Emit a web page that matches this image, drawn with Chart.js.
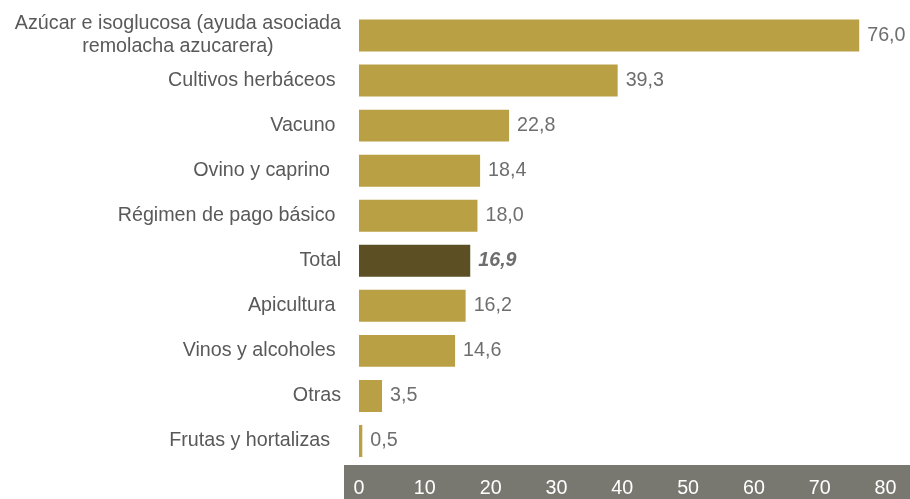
<!DOCTYPE html>
<html>
<head>
<meta charset="utf-8">
<script src="https://cdn.jsdelivr.net/npm/chart.js@4/dist/chart.umd.min.js"></script>
<style>
  html, body { margin: 0; padding: 0; background: #ffffff; }
  #wrap { width: 910px; height: 499px; position: relative; }
</style>
</head>
<body>
<div id="wrap"><canvas id="c" width="910" height="499"></canvas></div>
<script>
// ---- data ----
const categories = [
  ["Azúcar e isoglucosa (ayuda asociada", "remolacha azucarera)"],
  "Cultivos herbáceos ",
  "Vacuno ",
  "Ovino y caprino  ",
  "Régimen de pago básico ",
  "Total",
  "Apicultura ",
  "Vinos y alcoholes ",
  "Otras",
  "Frutas y hortalizas  "
];
const values = [76.0, 39.3, 22.8, 18.4, 18.0, 16.9, 16.2, 14.6, 3.5, 0.5];
const highlightIndex = 5; // "Total"
const xTicks = [0, 10, 20, 30, 40, 50, 60, 70, 80];

const FONT = '"Liberation Sans", Arial, sans-serif';
const FS = 19.7;
const GOLD = '#b9a044';
const DARK = '#5b4f23';
const BAND = '#787871';

const barColors = values.map((v, i) => i === highlightIndex ? DARK : GOLD);

const bandPlugin = {
  id: 'band',
  beforeDraw(chart) {
    const { ctx, chartArea, width, height } = chart;
    const xs = chart.scales.x;
    ctx.save();
    ctx.fillStyle = BAND;
    ctx.fillRect(chartArea.left - 15, xs.top + 1.5, width - (chartArea.left - 15), height - xs.top - 1.5);
    ctx.restore();
  }
};

const labelsPlugin = {
  id: 'labelsPlugin',
  afterDraw(chart) {
    const { ctx, chartArea } = chart;
    const ys = chart.scales.y;
    const meta = chart.getDatasetMeta(0);
    ctx.save();
    ctx.textBaseline = 'middle';
    const right = chartArea.left - 18;
    ctx.font = FS + 'px ' + FONT;
    ctx.fillStyle = '#595959';
    categories.forEach((lab, i) => {
      const y = ys.getPixelForValue(i);
      if (Array.isArray(lab)) {
        const w = Math.max(...lab.map(l => ctx.measureText(l).width));
        const cx = right - w / 2;
        const lh = 23;
        const y0 = y - (lab.length - 1) * lh / 2;
        ctx.textAlign = 'center';
        lab.forEach((l, k) => ctx.fillText(l, cx, y0 + k * lh));
      } else {
        ctx.textAlign = 'right';
        ctx.fillText(lab, right, y);
      }
    });
    ctx.textAlign = 'left';
    ctx.fillStyle = '#6e6e6e';
    meta.data.forEach((bar, i) => {
      const txt = values[i].toFixed(1).replace('.', ',');
      ctx.font = (i === highlightIndex ? 'italic bold ' : '') + FS + 'px ' + FONT;
      ctx.fillText(txt, bar.x + 8, bar.y);
    });
    ctx.restore();
  }
};

new Chart(document.getElementById('c'), {
  type: 'bar',
  data: {
    labels: categories,
    datasets: [{
      data: values,
      backgroundColor: barColors,
      borderWidth: 0,
      categoryPercentage: 1.0,
      barPercentage: 0.71
    }]
  },
  options: {
    indexAxis: 'y',
    responsive: false,
    animation: false,
    devicePixelRatio: 1,
    layout: { padding: { left: 359, right: 24, top: 13, bottom: 0 } },
    plugins: { legend: { display: false }, tooltip: { enabled: false } },
    scales: {
      x: {
        min: 0, max: 80,
        afterBuildTicks(axis) { axis.ticks = xTicks.map(v => ({ value: v })); },
        afterFit(axis) { axis.height = 35.5; },
        grid: { display: false, drawTicks: false },
        border: { display: false },
        ticks: {
          color: '#ffffff',
          font: { family: FONT, size: FS },
          padding: 13.5,
          maxRotation: 0,
          callback: (v) => String(v)
        }
      },
      y: {
        grid: { display: false, drawTicks: false },
        border: { display: false },
        ticks: { display: false }
      }
    }
  },
  plugins: [bandPlugin, labelsPlugin]
});
</script>
</body>
</html>
